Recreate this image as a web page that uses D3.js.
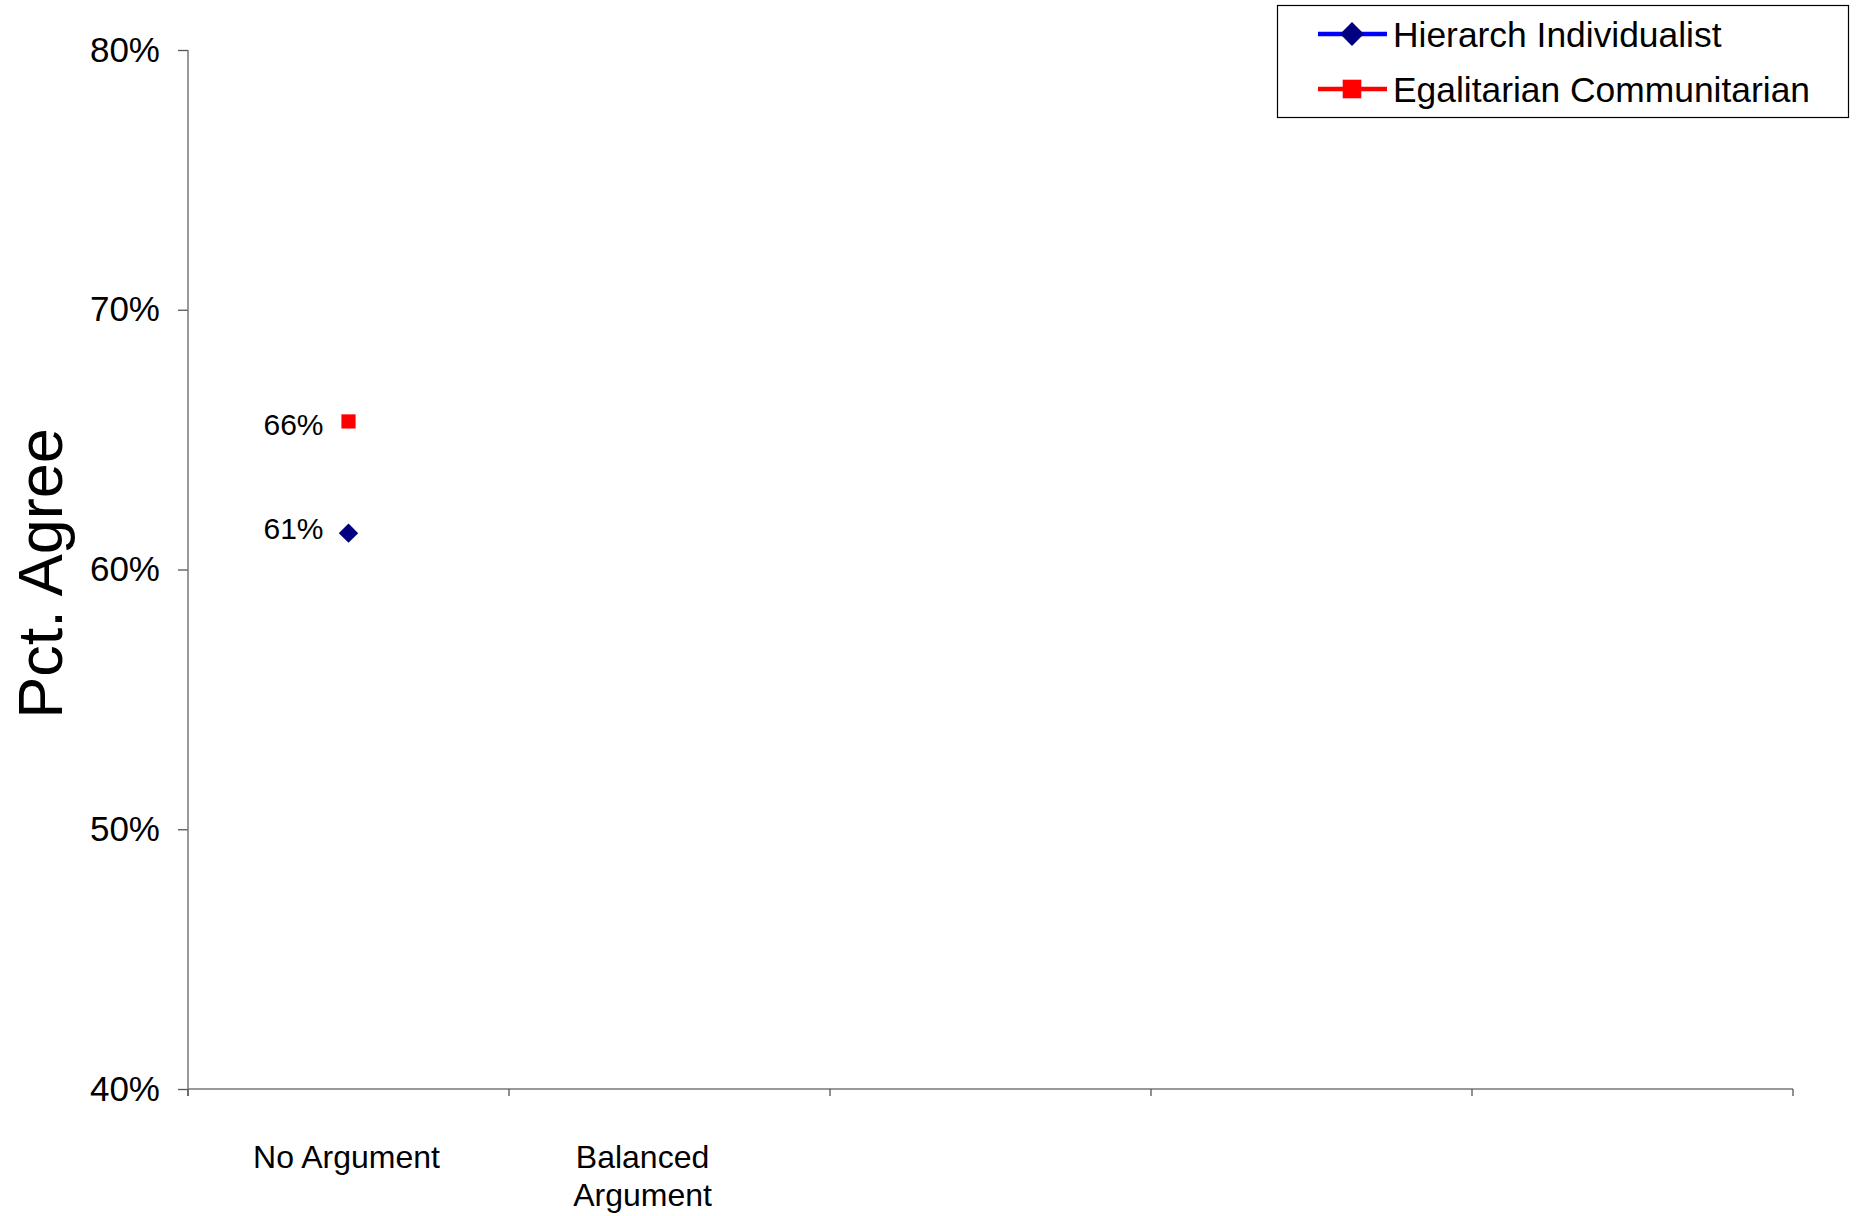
<!DOCTYPE html>
<html>
<head>
<meta charset="utf-8">
<script src="https://cdn.jsdelivr.net/npm/d3@7"></script>
<style>
  html, body { margin: 0; padding: 0; background: #fff; }
  svg text { font-family: "Liberation Sans", Arial, sans-serif; fill: #000; }
</style>
</head>
<body>
<svg id="chart" width="1857" height="1216"></svg>
<script>
// ---- data ----
const categoryLabels = ["No Argument", "Balanced|Argument", "", "", ""];
const yTicks = [40, 50, 60, 70, 80];
const seriesNames = ["Hierarch Individualist", "Egalitarian Communitarian"];
const hierarchValues = [61.4, null, null, null, null];
const egalitarianValues = [65.7, null, null, null, null];

// ---- layout ----
const svg = d3.select("#chart");
const plot = { left: 188, right: 1793, top: 50, bottom: 1089 };

const x = d3.scaleBand().domain(d3.range(categoryLabels.length)).range([plot.left, plot.right]);
const y = d3.scaleLinear().domain([40, 80]).range([plot.bottom, plot.top]);

// y axis
const yAxis = d3.axisLeft(y).tickValues(yTicks).tickFormat(d => d + "%").tickSize(10).tickPadding(18);
const gy = svg.append("g").attr("transform", `translate(${plot.left},0)`).call(yAxis);
gy.select(".domain").remove();
gy.selectAll(".tick line").attr("stroke", "#555").attr("stroke-width", 1.3);
gy.selectAll(".tick text").attr("font-size", 35).attr("font-family", "Liberation Sans, Arial, sans-serif").attr("fill", "#000");
svg.append("line").attr("x1", plot.left).attr("x2", plot.left).attr("y1", plot.top).attr("y2", plot.bottom + 7)
  .attr("stroke", "#777").attr("stroke-width", 1.5);

// x axis
const boundaries = d3.range(categoryLabels.length + 1).map(i => i < categoryLabels.length ? x(i) : x(i - 1) + x.bandwidth());
svg.append("line").attr("x1", plot.left).attr("x2", plot.right).attr("y1", plot.bottom).attr("y2", plot.bottom)
  .attr("stroke", "#777").attr("stroke-width", 1.5);
svg.append("g").selectAll("line").data(boundaries).join("line")
  .attr("x1", d => d).attr("x2", d => d).attr("y1", plot.bottom).attr("y2", plot.bottom + 7)
  .attr("stroke", "#555").attr("stroke-width", 1.3);

// category labels (wrapped labels sit a little left, as in the original layout)
const catG = svg.append("g");
categoryLabels.forEach((lab, i) => {
  if (!lab) return;
  const lines = lab.split("|");
  const cx = x(i) + x.bandwidth() / 2 - (lines.length > 1 ? 27 : 2);
  const t = catG.append("text")
    .attr("y", 1168)
    .attr("text-anchor", "middle")
    .attr("font-size", 32);
  lines.forEach((ln, k) => {
    t.append("tspan").attr("x", cx).attr("dy", k === 0 ? 0 : 38).text(ln);
  });
});

// y axis title
svg.append("text")
  .attr("transform", `translate(62, ${(plot.top + plot.bottom) / 2 + 4}) rotate(-90)`)
  .attr("text-anchor", "middle")
  .attr("font-size", 63)
  .text("Pct. Agree");

// ---- series ----
const fmt = v => d3.format(".0f")(v) + "%";
const diamond = d3.symbol().type(d3.symbolDiamond2);
const square = d3.symbol().type(d3.symbolSquare2);

function drawSeries(values, markerPath, fill, labelDy) {
  const g = svg.append("g");
  values.forEach((v, i) => {
    if (v == null) return;
    const cx = x(i) + x.bandwidth() / 2, cy = y(v);
    g.append("path").attr("d", markerPath).attr("fill", fill)
      .attr("transform", `translate(${cx},${cy})`);
    g.append("text").attr("x", cx - 25).attr("y", cy + labelDy).attr("dy", "0.35em")
      .attr("text-anchor", "end").attr("font-size", 30).text(fmt(v));
  });
}
drawSeries(hierarchValues, diamond.size(15.5 * 15.5)(), "#000080", -5);
drawSeries(egalitarianValues, square.size(16 * 16)(), "#ff0000", 3);

// ---- legend ----
const lg = svg.append("g");
lg.append("rect").attr("x", 1277.5).attr("y", 5.5).attr("width", 571).attr("height", 112)
  .attr("fill", "#fff").attr("stroke", "#000").attr("stroke-width", 1.2);
const legendItems = [
  { name: seriesNames[0], line: "#0000ff", marker: diamond.size(19 * 19)(), fill: "#000080" },
  { name: seriesNames[1], line: "#ff0000", marker: square.size(21 * 21)(), fill: "#ff0000" }
];
legendItems.forEach((it, k) => {
  const cy = 34 + k * 55;
  lg.append("line").attr("x1", 1318).attr("x2", 1387).attr("y1", cy).attr("y2", cy)
    .attr("stroke", it.line).attr("stroke-width", 4.5);
  lg.append("path").attr("d", it.marker).attr("fill", it.fill).attr("transform", `translate(1352,${cy})`);
  lg.append("text").attr("x", 1393).attr("y", cy).attr("dy", "0.36em").attr("font-size", 35.4).text(it.name);
});
</script>
</body>
</html>
